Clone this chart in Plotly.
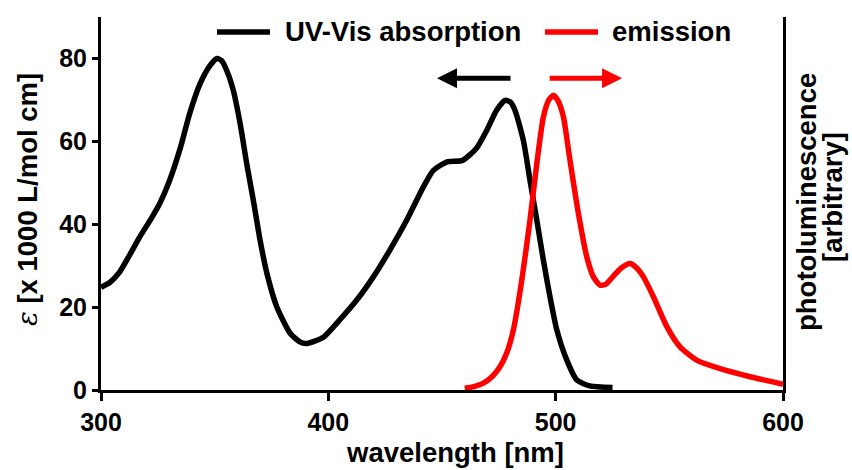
import plotly.graph_objects as go

# ---- data ----
abs_wl = [300, 304, 308, 312, 317, 322, 326, 330, 335, 339, 343.6, 348, 351, 353, 355.3,
          358.2, 361.2, 364.1, 367, 370, 373, 377.3, 383.2, 387.5, 390, 394, 398, 405,
          412.5, 419.8, 427, 434.5, 441.8, 446.2, 452, 459, 465, 470, 474, 477.7, 480,
          482.1, 485.8, 488.7, 491.7, 494.6, 497.5, 500.5, 504.9, 509.3, 515, 525]
abs_val = [24.8, 26, 28.3, 32, 36.9, 41.3, 45.2, 50.3, 58.6, 66.7, 73.9, 78.3, 80, 79.5, 77.1,
           72.3, 64.3, 54.6, 45.8, 36.1, 28.1, 20.1, 13.7, 11.6, 11.2, 11.8, 12.8, 16.9,
           21.7, 27.3, 33.7, 41, 49, 53, 55, 55.4, 58.2, 63, 67.5, 69.9, 69.5,
           67.5, 60.2, 50.6, 41, 31.3, 22.5, 14.5, 7.2, 2.4, 1, 0.6]

em_wl = [460, 464, 468, 472, 475.5, 478.5, 481.4, 485.1, 488.7, 491.7, 494.6, 497, 499, 501,
         503.4, 506.3, 510, 513.7, 516.6, 519.5, 522, 525.4, 529, 532.7, 535.5, 538.6, 543,
         548.9, 554.7, 562, 572, 585.5, 600]
em_val = [0.4, 0.8, 1.6, 3.2, 5.6, 9, 14.5, 26.5, 41, 54.6, 65.9, 70, 71.1, 69.8,
          65.9, 55.4, 42.6, 32.1, 27.3, 25.3, 25.5, 27.5, 29.5, 30.5, 29.5, 27.3, 22.5,
          15.3, 10.4, 7.2, 5.2, 3.2, 1.4]

x_ticks = [300, 400, 500, 600]
y_ticks = [0, 20, 40, 60, 80]
series_names = ["UV-Vis absorption", "emission"]
series_colors = ["#000000", "#FF0000"]

FONT = "Arial, Liberation Sans, sans-serif"
FS_TICK = 25
FS_TITLE = 27.5

fig = go.Figure()
fig.add_trace(go.Scatter(x=abs_wl, y=abs_val, mode="lines", name=series_names[0],
                         line=dict(color=series_colors[0], width=5.5, shape="spline", smoothing=0.6),
                         showlegend=False))
fig.add_trace(go.Scatter(x=em_wl, y=em_val, mode="lines", name=series_names[1], yaxis="y2",
                         line=dict(color=series_colors[1], width=5.5, shape="spline", smoothing=0.6),
                         showlegend=False))

L, R, T, B = 101, 69, 17, 80
W, H = 852, 470
pw, ph = W - L - R, H - T - B

def px(xp):
    return (xp - L) / pw

def py(yp):
    return (H - B - yp) / ph

axis_common = dict(showgrid=False, zeroline=False, showline=True, linecolor="black",
                   linewidth=3, ticks="outside", tickcolor="black", tickwidth=3,
                   tickfont=dict(family=FONT, size=FS_TICK, color="black", weight="bold"))

fig.update_layout(
    width=W, height=H, margin=dict(l=L, r=R, t=T, b=B),
    plot_bgcolor="white", paper_bgcolor="white",
    xaxis=dict(range=[300, 600], tickvals=x_ticks, ticklen=8, **axis_common),
    yaxis=dict(range=[0, 90], tickvals=y_ticks, ticklen=6, **axis_common),
    yaxis2=dict(range=[0, 90], overlaying="y", side="right", showgrid=False, zeroline=False,
                showline=True, linecolor="black", linewidth=3, ticks="", showticklabels=False),
)

title_font = dict(family=FONT, size=FS_TITLE, color="black", weight="bold")

# custom legend
shapes = []
annotations = []
leg = [(217, 270, 283, series_names[0], series_colors[0]),
       (545, 598, 610, series_names[1], series_colors[1])]
for x0, x1, xt, name, col in leg:
    shapes.append(dict(type="line", xref="paper", yref="paper", x0=px(x0), x1=px(x1),
                       y0=py(32), y1=py(32), line=dict(color=col, width=5.5)))
    annotations.append(dict(xref="paper", yref="paper", x=px(xt), y=py(31), text=name,
                            showarrow=False, xanchor="left", yanchor="middle", font=title_font))

# direction arrows
annotations.append(dict(x=447.8, y=75.2, ax=480.8, ay=75.2, xref="x", yref="y", axref="x", ayref="y",
                        text="", showarrow=True, arrowhead=2, arrowsize=0.8, arrowwidth=5,
                        arrowcolor="black"))
annotations.append(dict(x=529.2, y=75.2, ax=496.7, ay=75.2, xref="x", yref="y", axref="x", ayref="y",
                        text="", showarrow=True, arrowhead=2, arrowsize=0.8, arrowwidth=5,
                        arrowcolor="#FF0000"))

# axis titles
annotations.append(dict(xref="paper", yref="paper", x=px(455), y=py(452), text="wavelength [nm]",
                        showarrow=False, xanchor="center", yanchor="middle", font=title_font))
annotations.append(dict(xref="paper", yref="paper", x=px(27), y=py(200), textangle=-90,
                        text="<span style='font-family:DejaVu Serif;font-weight:normal'><i>ε</i></span> [x 1000 L/mol cm]",
                        showarrow=False, xanchor="center", yanchor="middle", font=title_font))
annotations.append(dict(xref="paper", yref="paper", x=px(806), y=py(202), textangle=-90,
                        text="photoluminescence", showarrow=False, xanchor="center", yanchor="middle",
                        font=title_font))
annotations.append(dict(xref="paper", yref="paper", x=px(832), y=py(197), textangle=-90,
                        text="[arbitrary]", showarrow=False, xanchor="center", yanchor="middle",
                        font=title_font))

fig.update_layout(shapes=shapes, annotations=annotations)
fig.write_html("out.html")
